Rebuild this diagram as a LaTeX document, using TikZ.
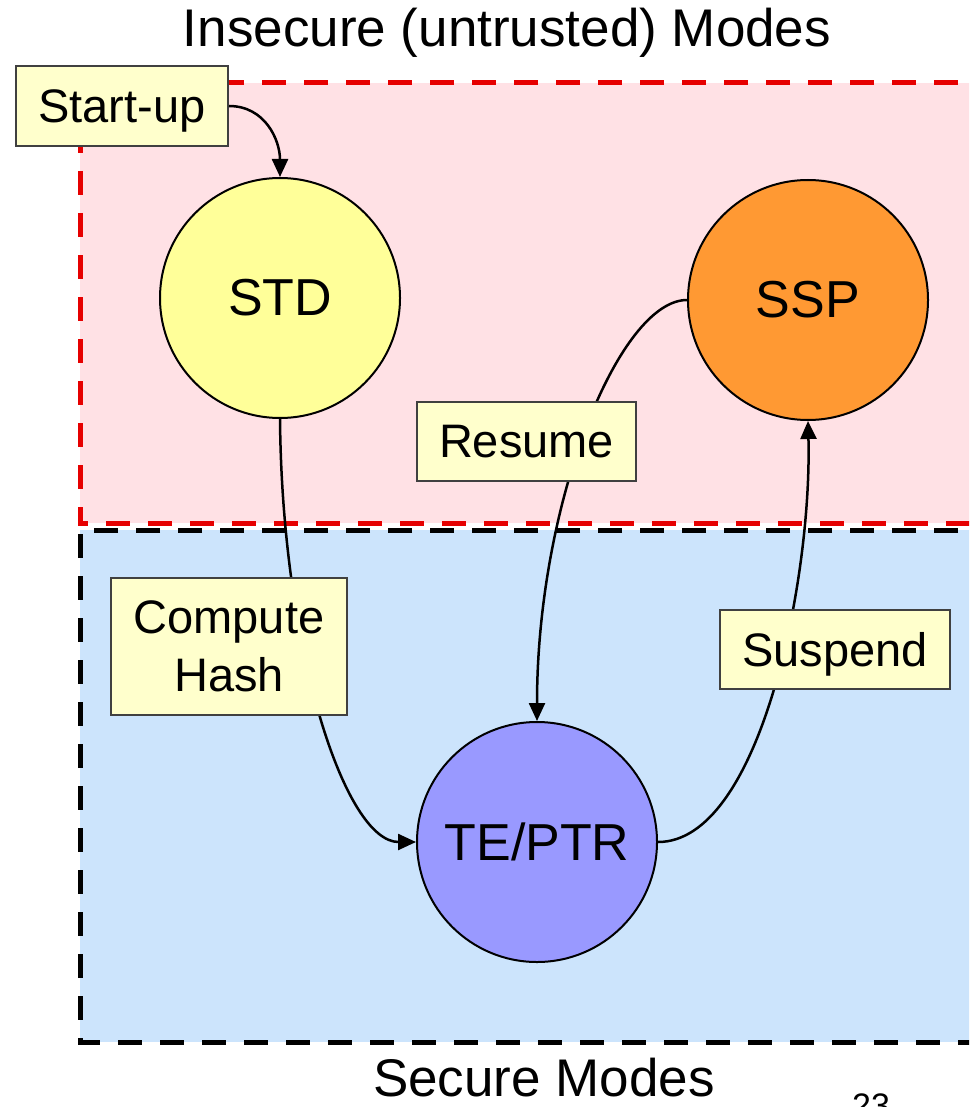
\documentclass[tikz,border=0pt]{standalone}
\usepackage{fontspec}
\setmainfont{Liberation Sans}
\usetikzlibrary{arrows.meta}
\definecolor{pinkbg}{RGB}{255,225,229}
\definecolor{bluebg}{RGB}{204,228,252}
\definecolor{reddash}{RGB}{230,0,0}
\definecolor{boxc}{RGB}{255,255,204}
\definecolor{stdc}{RGB}{255,255,153}
\definecolor{sspc}{RGB}{255,153,51}
\definecolor{tec}{RGB}{153,153,255}
\newcommand\lblfont{\fontsize{47}{58}\selectfont}
\newcommand\statefont{\fontsize{52}{60}\selectfont}
\begin{document}
\begin{tikzpicture}[x=1pt,y=-1pt,
  zone/.style={line width=5pt, dash pattern=on 24pt off 18pt},
  state/.style={circle, draw=black, line width=2pt, minimum size=240pt, inner sep=0pt, font=\statefont},
  lbl/.style={rectangle, draw=black!75, line width=2pt, fill=boxc, inner sep=0pt, font=\lblfont, text depth=0pt, align=center},
  conn/.style={draw=black, line width=2.5pt, -{Triangle[length=18pt,width=16pt]}}]
\useasboundingbox (0,0) rectangle (969,1107);
\clip (0,0) rectangle (969,1107);
% zones
\fill[pinkbg] (80,83) rectangle (1000,523);
\fill[bluebg] (80,530) rectangle (1000,1042);
\draw[zone, draw=reddash] (1000,83) -- (80,83) -- (80,523) -- (1000,523);
\draw[zone, draw=black] (1000,530) -- (80,530) -- (80,1042) -- (1000,1042);
% titles
\node[anchor=base, font=\fontsize{53}{60}\selectfont, inner sep=0pt] (title) at (507,47) {Insecure (untrusted) Modes};
\node[anchor=base, font=\fontsize{53}{60}\selectfont, inner sep=0pt] (sec) at (544,1096) {Secure Modes};
\node[anchor=base, font=\fontsize{34}{40}\selectfont, inner sep=0pt] (pg) at (871,1117) {23};
% states
\node[state, fill=stdc] (std) at (280,298) {STD};
\node[state, fill=sspc] (ssp) at (808,300) {SSP};
\node[state, fill=tec] (te) at (537,842) {TE/PTR};
% connectors
\node[lbl, minimum width=212pt, minimum height=80pt] (su) at (122,106) {Start-up};
\draw[conn] (su.east) .. controls (265,106) and (280,140) .. (std.north);
\draw[conn] (std.south) .. controls (282,650) and (345,842) .. (te.west);
\draw[conn] (ssp.west) .. controls (620,300) and (537,500) .. (te.north);
\draw[conn] (te.east) .. controls (760,842) and (812,580) .. (ssp.south);
% labels
\node[lbl, minimum width=219pt, minimum height=79pt] (res) at (526.5,441.5) {Resume};
\node[lbl, minimum width=236pt, minimum height=137pt, text depth=] (ch) at (229,646.5) {Compute\\Hash};
\node[lbl, minimum width=230pt, minimum height=79pt] (sus) at (835,649.5) {Suspend};
\end{tikzpicture}
\end{document}
